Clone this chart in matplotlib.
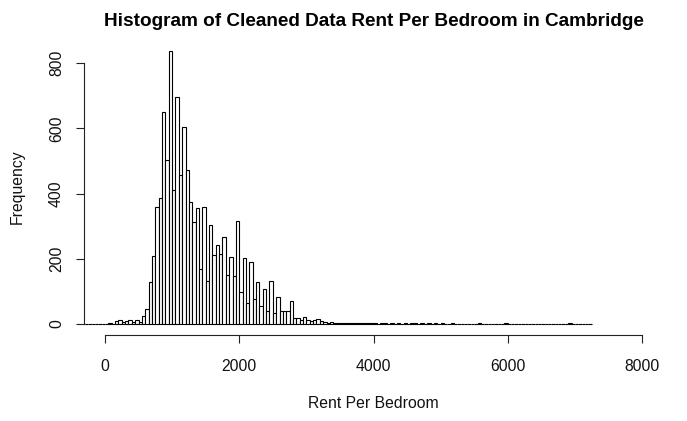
import matplotlib
matplotlib.use("Agg")
import matplotlib.pyplot as plt
import numpy as np

# histogram of rent per bedroom, 50-wide bins starting at -350
bin_start = -350
bin_width = 50
counts = [
    0, 0, 0, 0, 0, 0, 0,                                   # -350 .. -50
    1, 2, 1, 9, 11, 7, 9, 11, 6, 13, 7, 26,                # 0 .. 550
    47, 128, 208, 358, 386, 650, 503, 839, 410, 697,       # 600 .. 1050
    458, 605, 473, 375, 312, 356, 169, 360, 131, 305,      # 1100 .. 1550
    213, 242, 215, 267, 151, 206, 147, 317, 98, 203,       # 1600 .. 2050
    66, 190, 76, 129, 55, 107, 39, 132, 33, 82,            # 2100 .. 2550
    40, 40, 41, 71, 20, 20, 12, 23, 11, 8,                 # 2600 .. 3050
    11, 15, 9, 7, 4, 5, 3, 2,                              # 3100 .. 3450
    4, 3, 4, 2, 3, 3, 2, 3, 2, 2,                          # 3500 .. 3950
    3, 1, 2, 2, 1, 2, 1, 3, 1, 2,                          # 4000 .. 4450
    1, 2, 3, 1, 2, 1, 2, 1, 2, 1,                          # 4500 .. 4950
    2, 1, 1, 2, 1, 1, 1, 1, 1, 1,                          # 5000 .. 5450
    1, 2, 1, 1, 1, 0, 1, 1, 1, 2,                          # 5500 .. 5950
    1, 1, 1, 1, 1, 0, 1, 1, 1, 1,                          # 6000 .. 6450
    1, 1, 1, 1, 1, 1, 1, 1, 3, 1,                          # 6500 .. 6950
    1, 1, 1, 0, 1,                                         # 7000 .. 7200
]
x_ticks = [0, 2000, 4000, 6000, 8000]
y_ticks = [0, 200, 400, 600, 800]

W, H = 687, 421
plt.rcParams['font.family'] = ['Liberation Sans', 'DejaVu Sans']

fig = plt.figure(figsize=(W / 100, H / 100), dpi=100)

# plot region in pixels (R style: 4% padding around data range)
left_px, right_px = 83.5, 663.5
top_px, bottom_px = 39.6, 335.0
ax = fig.add_axes([left_px / W, 1 - bottom_px / H,
                   (right_px - left_px) / W, (bottom_px - top_px) / H])

lefts = bin_start + bin_width * np.arange(len(counts))
ax.bar(lefts, counts, width=bin_width, align='edge',
       facecolor='white', edgecolor='black', linewidth=0.8)

ax.set_xlim(-320, 8320)
ymax = max(counts)
ax.set_ylim(-0.04 * ymax, 1.04 * ymax)

for side in ['top', 'right']:
    ax.spines[side].set_visible(False)
ax.spines['bottom'].set_bounds(x_ticks[0], x_ticks[-1])
ax.spines['left'].set_bounds(y_ticks[0], y_ticks[-1])
for side in ['bottom', 'left']:
    ax.spines[side].set_linewidth(0.8)
    ax.spines[side].set_color('#222222')

ax.set_xticks(x_ticks)
ax.set_yticks(y_ticks)
ax.tick_params(axis='both', direction='out', length=6, width=0.8,
               color='#222222', labelsize=11.3, labelcolor='#111111')
ax.tick_params(axis='x', pad=11)
ax.tick_params(axis='y', pad=8)
plt.setp(ax.get_yticklabels(), rotation=90, va='center', ha='right')

fig.text(373.5 / W, 1 - 21 / H,
         'Histogram of Cleaned Data Rent Per Bedroom in Cambridge',
         ha='center', va='center', fontsize=13.7, fontweight='bold', color='black')
fig.text(373.5 / W, 1 - 404 / H, 'Rent Per Bedroom',
         ha='center', va='center', fontsize=11.3, color='#111111')
fig.text(17 / W, 1 - 187 / H, 'Frequency', rotation=90,
         ha='center', va='center', fontsize=11.3, color='#111111')

fig.savefig('out.png', dpi=100, facecolor='white')
